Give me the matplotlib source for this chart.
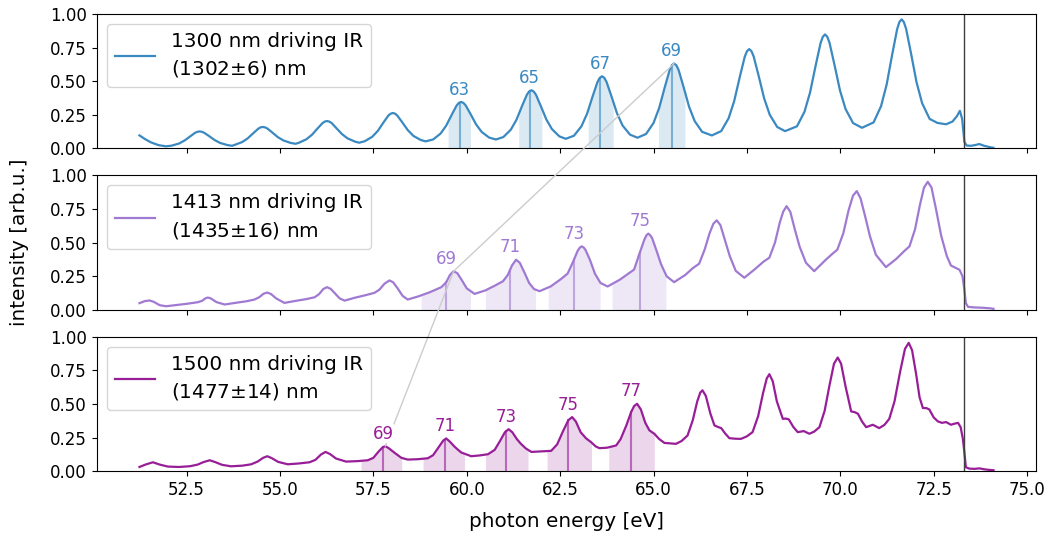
import numpy as np
import matplotlib
matplotlib.use("Agg")
import matplotlib.pyplot as plt
from matplotlib.patches import ConnectionPatch
from matplotlib.ticker import MultipleLocator

plt.rcParams['font.size'] = 12

# photon energy [eV] and normalised intensity
e_1300 = [51.24, 51.4, 51.55, 51.75, 51.95,
          52.10, 52.30, 52.45, 52.60, 52.73, 52.79, 52.85, 52.91, 52.97, 53.10, 53.25, 53.40, 53.60, 53.72,
          53.79, 53.99, 54.14, 54.29, 54.42, 54.48, 54.54, 54.60, 54.66, 54.79, 54.94, 55.09, 55.29, 55.42,
          55.51, 55.71, 55.86, 56.01, 56.14, 56.20, 56.26, 56.32, 56.38, 56.51, 56.66, 56.81, 57.01, 57.12,
          57.27, 57.47, 57.62, 57.77, 57.90, 57.96, 58.02, 58.08, 58.14, 58.27, 58.42, 58.57, 58.77, 58.90,
          59.10, 59.30, 59.45, 59.60, 59.73, 59.79, 59.85, 59.91, 59.97, 60.10, 60.25, 60.40, 60.60, 60.78,
          60.98, 61.18, 61.33, 61.48, 61.61, 61.67, 61.73, 61.79, 61.85, 61.98, 62.13, 62.28, 62.48, 62.65,
          62.87, 63.07, 63.22, 63.37, 63.50, 63.56, 63.62, 63.68, 63.74, 63.87, 64.02, 64.17, 64.37, 64.57,
          64.80, 65.00, 65.15, 65.30, 65.43, 65.49, 65.55, 65.61, 65.67, 65.80, 65.95, 66.10, 66.30, 66.56,
          66.81, 67.01, 67.16, 67.31, 67.44, 67.50, 67.56, 67.62, 67.68, 67.81, 67.96, 68.11, 68.31, 68.52,
          68.84, 69.04, 69.19, 69.34, 69.47, 69.53, 69.59, 69.65, 69.71, 69.84, 69.99, 70.14, 70.34, 70.58,
          70.89, 71.09, 71.24, 71.39, 71.52, 71.58, 71.64, 71.70, 71.76, 71.89, 72.04, 72.19, 72.39,
          72.60, 72.83, 73.00, 73.12, 73.20, 73.26, 73.32, 73.38, 73.50, 73.60, 73.72, 73.85,
          74.00, 74.10]
i_1300 = [0.097, 0.068, 0.045, 0.025, 0.016,
          0.021, 0.037, 0.060, 0.091, 0.117, 0.124, 0.127, 0.124, 0.117, 0.093, 0.063, 0.041, 0.025, 0.020,
          0.027, 0.048, 0.076, 0.115, 0.147, 0.157, 0.160, 0.157, 0.149, 0.120, 0.085, 0.060, 0.041, 0.035,
          0.043, 0.069, 0.103, 0.150, 0.189, 0.200, 0.204, 0.200, 0.190, 0.152, 0.107, 0.075, 0.051, 0.043,
          0.054, 0.087, 0.131, 0.193, 0.244, 0.258, 0.264, 0.259, 0.245, 0.196, 0.137, 0.094, 0.063, 0.053,
          0.067, 0.111, 0.170, 0.252, 0.320, 0.339, 0.346, 0.339, 0.321, 0.257, 0.179, 0.123, 0.081, 0.067,
          0.085, 0.140, 0.213, 0.316, 0.400, 0.424, 0.433, 0.424, 0.401, 0.317, 0.216, 0.144, 0.090, 0.072,
          0.095, 0.165, 0.258, 0.388, 0.495, 0.525, 0.537, 0.526, 0.496, 0.391, 0.263, 0.171, 0.103, 0.080,
          0.108, 0.190, 0.301, 0.455, 0.582, 0.618, 0.632, 0.619, 0.584, 0.461, 0.311, 0.204, 0.124, 0.097,
          0.129, 0.225, 0.354, 0.534, 0.681, 0.723, 0.739, 0.724, 0.684, 0.544, 0.373, 0.251, 0.160, 0.129,
          0.165, 0.273, 0.417, 0.618, 0.783, 0.830, 0.848, 0.831, 0.786, 0.626, 0.432, 0.293, 0.189, 0.154,
          0.194, 0.315, 0.476, 0.702, 0.887, 0.940, 0.960, 0.940, 0.890, 0.710, 0.492, 0.336, 0.220,
          0.190, 0.180, 0.200, 0.240, 0.280, 0.220, 0.050, 0.022, 0.020, 0.025, 0.033, 0.020,
          0.010, 0.005]

e_1413 = [51.24, 51.38, 51.51, 51.62, 51.78, 51.95, 52.2, 52.5, 52.8,
          52.92, 53.0, 53.07, 53.15, 53.3, 53.52,
          53.8, 54.1, 54.32, 54.45, 54.56, 54.66, 54.76, 54.9, 55.12,
          55.4, 55.7, 55.93, 56.05, 56.16, 56.26, 56.36, 56.48, 56.6, 56.73,
          57.0, 57.3, 57.53, 57.66, 57.8, 57.93, 58.03, 58.15, 58.28, 58.42,
          58.7, 59.0, 59.32, 59.45, 59.55, 59.65, 59.75, 59.87, 60.0, 60.21,
          60.5, 60.75, 60.97, 61.1, 61.21, 61.32, 61.42, 61.54, 61.67, 61.8, 61.95,
          62.25, 62.53, 62.7, 62.85, 62.97, 63.03, 63.08, 63.13, 63.18, 63.3, 63.43, 63.58, 63.77,
          64.1, 64.35, 64.48, 64.6, 64.75, 64.81, 64.86, 64.91, 64.96, 65.08, 65.2, 65.35, 65.55,
          65.85, 66.05, 66.22, 66.37, 66.5, 66.6, 66.69, 66.79, 66.91, 67.04, 67.2, 67.43,
          67.7, 67.95, 68.1, 68.25, 68.38, 68.47, 68.56, 68.66, 68.78, 68.91, 69.08, 69.3,
          69.6, 69.8, 69.92, 70.08, 70.22, 70.34, 70.44, 70.54, 70.66, 70.79, 70.95, 71.22,
          71.5, 71.72, 71.85, 72.0, 72.13, 72.24, 72.34, 72.44, 72.56, 72.7, 72.85, 72.96,
          73.1, 73.19, 73.27, 73.32, 73.36, 73.42, 73.6, 73.8, 74.0, 74.1]
i_1413 = [0.050, 0.065, 0.070, 0.060, 0.035, 0.027, 0.035, 0.045, 0.057,
          0.068, 0.085, 0.092, 0.085, 0.058, 0.040,
          0.052, 0.064, 0.077, 0.095, 0.120, 0.129, 0.118, 0.085, 0.052,
          0.066, 0.080, 0.094, 0.118, 0.155, 0.169, 0.156, 0.120, 0.085, 0.069,
          0.090, 0.110, 0.127, 0.150, 0.195, 0.219, 0.205, 0.160, 0.105, 0.077,
          0.100, 0.130, 0.169, 0.205, 0.260, 0.288, 0.272, 0.220, 0.160, 0.119,
          0.145, 0.180, 0.213, 0.260, 0.330, 0.373, 0.350, 0.280, 0.200, 0.155, 0.139,
          0.175, 0.231, 0.270, 0.360, 0.440, 0.464, 0.472, 0.464, 0.445, 0.370, 0.270, 0.200, 0.174,
          0.225, 0.275, 0.300, 0.400, 0.520, 0.555, 0.567, 0.555, 0.535, 0.440, 0.340, 0.250, 0.206,
          0.260, 0.310, 0.343, 0.450, 0.570, 0.640, 0.666, 0.630, 0.520, 0.400, 0.290, 0.239,
          0.300, 0.360, 0.388, 0.500, 0.650, 0.730, 0.771, 0.730, 0.600, 0.470, 0.350, 0.288,
          0.370, 0.420, 0.448, 0.570, 0.740, 0.850, 0.883, 0.830, 0.700, 0.550, 0.410, 0.318,
          0.380, 0.440, 0.472, 0.600, 0.780, 0.910, 0.952, 0.910, 0.750, 0.550, 0.400, 0.330,
          0.310, 0.298, 0.250, 0.150, 0.050, 0.022, 0.018, 0.016, 0.012, 0.008]

e_1500 = [51.24, 51.4, 51.6, 51.78, 52.0, 52.3, 52.6, 52.8, 52.95, 53.12, 53.27, 53.45, 53.69,
          54.0, 54.23, 54.4, 54.55, 54.66, 54.78, 54.95, 55.21,
          55.5, 55.79, 55.95, 56.1, 56.22, 56.34, 56.5, 56.77,
          57.1, 57.35, 57.5, 57.65, 57.75, 57.82, 57.92, 58.07, 58.25, 58.42,
          58.7, 58.96, 59.1, 59.25, 59.37, 59.45, 59.55, 59.68, 59.85, 60.12,
          60.35, 60.57, 60.75, 60.9, 61.02, 61.12, 61.22, 61.34, 61.44, 61.58, 61.73,
          62.0, 62.26, 62.42, 62.58, 62.72, 62.82, 62.92, 63.05, 63.19, 63.33, 63.45, 63.55,
          63.75, 64.0, 64.12, 64.27, 64.4, 64.48, 64.56, 64.66, 64.78, 64.89, 65.02, 65.15, 65.29,
          65.45, 65.6, 65.75, 65.91, 66.05, 66.17, 66.25, 66.31, 66.4, 66.52, 66.63, 66.72, 66.81,
          66.92, 67.03, 67.2, 67.34, 67.5, 67.65, 67.8, 67.93, 68.03, 68.1, 68.19, 68.3, 68.46,
          68.54, 68.62, 68.74, 68.86, 69.02, 69.17, 69.3, 69.44, 69.58, 69.71, 69.83, 69.93,
          70.02, 70.14, 70.29, 70.38, 70.47, 70.58, 70.69, 70.87, 71.04, 71.18, 71.31, 71.45,
          71.6, 71.73, 71.83, 71.92, 72.03, 72.12, 72.21, 72.3, 72.38, 72.5, 72.61, 72.72,
          72.83, 72.96, 73.07, 73.15, 73.22, 73.28, 73.32, 73.36, 73.45, 73.6, 73.72, 73.85,
          74.0, 74.1]
i_1500 = [0.032, 0.050, 0.067, 0.050, 0.035, 0.032, 0.038, 0.050, 0.068, 0.082, 0.068, 0.048, 0.037,
          0.042, 0.052, 0.072, 0.100, 0.112, 0.098, 0.070, 0.052,
          0.058, 0.067, 0.085, 0.125, 0.144, 0.128, 0.095, 0.072,
          0.076, 0.082, 0.100, 0.150, 0.178, 0.187, 0.170, 0.137, 0.100, 0.087,
          0.090, 0.097, 0.120, 0.180, 0.228, 0.244, 0.220, 0.181, 0.140, 0.112,
          0.118, 0.127, 0.160, 0.230, 0.290, 0.313, 0.290, 0.240, 0.207, 0.170, 0.144,
          0.148, 0.152, 0.200, 0.300, 0.380, 0.403, 0.370, 0.290, 0.246, 0.216, 0.185, 0.172,
          0.175, 0.192, 0.240, 0.340, 0.440, 0.485, 0.502, 0.460, 0.360, 0.304, 0.279, 0.240, 0.211,
          0.207, 0.204, 0.225, 0.266, 0.380, 0.520, 0.585, 0.602, 0.560, 0.430, 0.341, 0.330, 0.321,
          0.280, 0.246, 0.242, 0.241, 0.260, 0.291, 0.410, 0.580, 0.690, 0.722, 0.670, 0.520, 0.390,
          0.392, 0.386, 0.330, 0.291, 0.299, 0.279, 0.295, 0.328, 0.450, 0.640, 0.800, 0.846,
          0.800, 0.630, 0.445, 0.440, 0.428, 0.370, 0.328, 0.346, 0.321, 0.345, 0.390, 0.520,
          0.740, 0.910, 0.955, 0.900, 0.720, 0.550, 0.470, 0.470, 0.460, 0.400, 0.371, 0.360,
          0.366, 0.346, 0.355, 0.360, 0.328, 0.240, 0.140, 0.030, 0.020, 0.018, 0.022, 0.015,
          0.010, 0.008]

labels = ['1300 nm driving IR\n(1302$\\pm$6) nm',
          '1413 nm driving IR\n(1435$\\pm$16) nm',
          '1500 nm driving IR\n(1477$\\pm$14) nm']
colors = ['#3a89c1', '#a07ad2', '#981e98']

# harmonic orders, centre energies and integration windows
orders_1300 = [63, 65, 67, 69]
centre_1300 = [59.81, 61.68, 63.57, 65.49]
window_1300 = [(59.50, 60.10), (61.39, 62.01), (63.25, 63.92), (65.13, 65.84)]

orders_1413 = [69, 71, 73, 75]
centre_1413 = [59.45, 61.16, 62.88, 64.64]
window_1413 = [(58.78, 60.10), (60.50, 61.84), (62.18, 63.57), (63.89, 65.33)]

orders_1500 = [69, 71, 73, 75, 77]
centre_1500 = [57.76, 59.41, 61.06, 62.72, 64.40]
window_1500 = [(57.17, 58.26), (58.83, 59.94), (60.50, 61.64), (62.15, 63.34), (63.80, 65.02)]

cutoff = 73.3
linked_order = 69

fig, axes = plt.subplots(3, 1, figsize=(10.52, 5.38), dpi=100, sharex=True)
fig.subplots_adjust(left=0.092, right=0.985, top=0.974, bottom=0.124, hspace=0.2)

data = [(e_1300, i_1300, orders_1300, centre_1300, window_1300),
        (e_1413, i_1413, orders_1413, centre_1413, window_1413),
        (e_1500, i_1500, orders_1500, centre_1500, window_1500)]

link_pts = []
for ax, (e, inten, orders, centres, windows), lab, c in zip(axes, data, labels, colors):
    e = np.array(e)
    inten = np.array(inten)
    ax.plot(e, inten, color=c, lw=1.6, label=lab)
    for q, xc, (a, b) in zip(orders, centres, windows):
        m = (e > a) & (e < b)
        xs = np.concatenate([[a], e[m], [b]])
        ys = np.interp(xs, e, inten)
        ax.fill_between(xs, 0, ys, color=c, alpha=0.18, lw=0)
        yc = np.interp(xc, e, inten)
        ax.plot([xc, xc], [0, yc], color=c, alpha=0.6, lw=1.5)
        ax.text(xc, ys.max() + 0.025, str(q), ha='center', va='bottom', color=c,
                zorder=5, bbox=dict(fc='white', ec='none', pad=0.5))
        if q == linked_order:
            k = np.argmax(ys)
            link_pts.append((xs[k], ys[k]))
    ax.axvline(cutoff, color='0.25', lw=1)
    ax.set_ylim(0, 1)
    ax.set_yticks([0, 0.25, 0.5, 0.75, 1.0])
    ax.xaxis.set_major_locator(MultipleLocator(2.5))
    leg = ax.legend(loc='upper left', fontsize='large')
    for t in leg.get_texts():
        t.set_linespacing(1.45)

axes[1].set_ylabel('intensity [arb.u.]', fontsize='large', labelpad=15)
axes[2].set_xlabel('photon energy [eV]', fontsize='large', labelpad=9)

# guide line linking harmonic 69 across the panels
for i in range(2):
    con = ConnectionPatch(xyA=link_pts[i], coordsA=axes[i].transData,
                          xyB=link_pts[i + 1], coordsB=axes[i + 1].transData,
                          color='0.8', lw=1, zorder=2.5)
    axes[2].add_artist(con)
    con.set_clip_on(False)

fig.savefig('out.png', dpi=100)
